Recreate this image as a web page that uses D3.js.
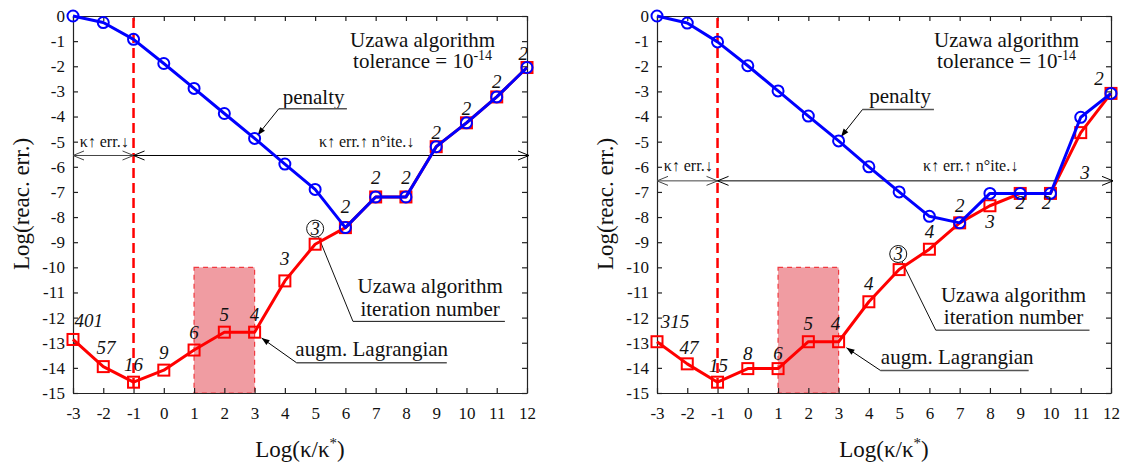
<!DOCTYPE html>
<html><head><meta charset="utf-8">
<script src="https://cdn.jsdelivr.net/npm/d3@7"></script>
<style>body{margin:0;background:#fff}svg{display:block}svg text{font-family:"Liberation Serif","Times New Roman",Tinos,"DejaVu Serif",serif}</style>
</head><body>
<svg id="c" width="1123" height="465"></svg>
<script>
// ---------- data ----------
const kappa = [-3,-2,-1,0,1,2,3,4,5,6,7,8,9,10,11,12];
const xTicks = [-3,-2,-1,0,1,2,3,4,5,6,7,8,9,10,11,12];
const yTicks = [0,-1,-2,-3,-4,-5,-6,-7,-8,-9,-10,-11,-12,-13,-14,-15];

const penaltyLeft = [0,-0.26,-0.93,-1.89,-2.88,-3.88,-4.87,-5.89,-6.9,-8.42,-7.2,-7.2,-5.2,-4.25,-3.22,-2.05];
const augLagLeft  = [-12.87,-13.95,-14.57,-14.09,-13.29,-12.58,-12.58,-10.54,-9.08,-8.42,-7.2,-7.2,-5.2,-4.25,-3.22,-2.05];
const iterLeft    = ["401","57","16","9","6","5","4","3","3","2","2","2","2","2","2","2"];

const penaltyRight = [0,-0.28,-1.03,-1.98,-2.98,-3.98,-4.97,-6.0,-7.0,-7.97,-8.23,-7.06,-7.06,-7.06,-4.03,-3.08];
const augLagRight  = [-12.96,-13.84,-14.57,-14.03,-14.03,-12.96,-12.96,-11.37,-10.09,-9.28,-8.23,-7.55,-7.06,-7.06,-4.64,-3.08];
const iterRight    = ["315","47","15","8","6","5","4","4","3","4","2","3","2","2","3","2"];

const bandX = [1,3];
const bandY = [-10,-15];
const optimalKappa = -1;

// ---------- drawing ----------
const svg = d3.select("#c");
const FONT = '"Liberation Serif","Times New Roman",Tinos,"DejaVu Serif",serif';
const BLUE = "#0000ff", RED = "#ff0000";

function arrowHead(g,x1,y1,x2,y2,len,hw){
  const a=Math.atan2(y2-y1,x2-x1);
  const bx=x2-len*Math.cos(a), by=y2-len*Math.sin(a);
  const px=-Math.sin(a)*hw, py=Math.cos(a)*hw;
  g.append("path").attr("d",`M${x2},${y2}L${bx+px},${by+py}L${bx-px},${by-py}Z`).attr("fill","#000");
}
function chevron(g,tip,yy,dir,color){
  g.append("path").attr("d",`M${tip+dir*11},${yy-4.5}L${tip},${yy}L${tip+dir*11},${yy+4.5}`)
   .attr("fill","none").attr("stroke",color).attr("stroke-width",1);
}

function panel(cfg){
  const x = d3.scaleLinear().domain([-3,12]).range([cfg.x0,cfg.x1]);
  const y = d3.scaleLinear().domain([0,-15]).range([16,393]);
  const g = svg.append("g");

  // shaded band
  g.append("rect").attr("x",x(bandX[0])).attr("y",y(bandY[0]))
   .attr("width",x(bandX[1])-x(bandX[0])).attr("height",y(bandY[1])-y(bandY[0]))
   .attr("fill","#f09ca2").attr("stroke","#f03a40").attr("stroke-width",1.2).attr("stroke-dasharray","5,4");

  // axes (inward ticks on four sides)
  const styleAxis = sel => {
    sel.attr("font-family",null);
    sel.selectAll("path.domain").attr("stroke","#222").attr("stroke-width",1.2);
    sel.selectAll(".tick line").attr("stroke","#222").attr("stroke-width",1.2);
    sel.selectAll("text").style("font-family",FONT).attr("font-size",17).attr("fill","#111");
  };
  g.append("g").attr("transform",`translate(0,${y(-15)})`)
   .call(d3.axisBottom(x).tickValues(xTicks).tickSize(-5).tickSizeOuter(0).tickPadding(14).tickFormat(d=>String(d))).call(styleAxis);
  g.append("g").attr("transform",`translate(0,${y(0)})`)
   .call(d3.axisTop(x).tickValues(xTicks).tickSize(-5).tickSizeOuter(0).tickFormat("")).call(styleAxis);
  g.append("g").attr("transform",`translate(${x(-3)},0)`)
   .call(d3.axisLeft(y).tickValues(yTicks).tickSize(-5).tickSizeOuter(0).tickPadding(8).tickFormat(d=>String(d))).call(styleAxis);
  g.append("g").attr("transform",`translate(${x(12)},0)`)
   .call(d3.axisRight(y).tickValues(yTicks).tickSize(-5).tickSizeOuter(0).tickFormat("")).call(styleAxis);

  // axis titles
  g.append("text").attr("transform",`translate(${cfg.x0-44},204) rotate(-90)`)
   .attr("text-anchor","middle").style("font-family",FONT).attr("font-size",23).attr("fill","#111")
   .text("Log(reac. err.)");
  const xl = g.append("text").attr("x",(cfg.x0+cfg.x1)/2).attr("y",457).attr("text-anchor","middle")
   .style("font-family",FONT).attr("font-size",23).attr("fill","#111");
  xl.append("tspan").text("Log(κ/κ");
  xl.append("tspan").attr("font-size",15).attr("dy",-9).text("*");
  xl.append("tspan").attr("dy",9).text(")");

  // dashed vertical line at optimal kappa
  g.append("line").attr("x1",x(optimalKappa)).attr("x2",x(optimalKappa)).attr("y1",y(0)+2).attr("y2",y(-15))
   .attr("stroke",RED).attr("stroke-width",2.5).attr("stroke-dasharray","10,5");

  // double arrows
  const ay = y(cfg.arrowY);
  g.append("line").attr("x1",x(-3)).attr("x2",x(-1)).attr("y1",ay).attr("y2",ay).attr("stroke","#444").attr("stroke-width",1);
  g.append("line").attr("x1",x(-1)).attr("x2",x(12)+2).attr("y1",ay).attr("y2",ay).attr("stroke","#000").attr("stroke-width",1);
  chevron(g,x(-3),ay,1,"#444");
  chevron(g,x(-1),ay,-1,"#444");
  chevron(g,x(-1),ay,1,"#000");
  chevron(g,x(12)+2,ay,-1,"#000");
  const t = (xx,yy,s,size,anchor) => g.append("text").attr("x",xx).attr("y",yy).attr("text-anchor",anchor||"middle")
      .style("font-family",FONT).attr("font-size",size).attr("fill","#111").text(s);
  t(x(-1.97),y(cfg.arrowTextY),"κ↑ err.↓",16);
  t(x(cfg.longTextX),y(cfg.arrowTextY),"κ↑ err.↑ n°ite.↓",16);

  // top-right annotation
  t(x(8.55),y(-1.22),"Uzawa algorithm",21);
  const tol = g.append("text").attr("x",x(8.55)).attr("y",y(-2.08)).attr("text-anchor","middle")
      .style("font-family",FONT).attr("font-size",21).attr("fill","#111");
  tol.append("tspan").text("tolerance = 10");
  tol.append("tspan").attr("font-size",14).attr("dy",-8).text("-14");

  // penalty annotation
  const p = cfg.pen;
  t(x(p.tx),y(p.ty),"penalty",21);
  g.append("line").attr("x1",x(p.u0)).attr("x2",x(p.u1)).attr("y1",y(p.uy)).attr("y2",y(p.uy)).attr("stroke","#555").attr("stroke-width",1.5);
  g.append("line").attr("x1",x(p.u0)).attr("y1",y(p.uy)).attr("x2",x(p.ax)).attr("y2",y(p.ay)).attr("stroke","#000").attr("stroke-width",1);
  arrowHead(g,x(p.u0),y(p.uy),x(p.ax),y(p.ay),8,3);

  // augmented Lagrangian annotation
  const a = cfg.aug;
  t(x(a.tx),y(a.ty),"augm. Lagrangian",21);
  g.append("line").attr("x1",x(a.u0)).attr("x2",x(a.u1)).attr("y1",y(a.uy)).attr("y2",y(a.uy)).attr("stroke","#555").attr("stroke-width",1.5);
  g.append("line").attr("x1",x(a.u0)).attr("y1",y(a.uy)).attr("x2",x(a.ax)).attr("y2",y(a.ay)).attr("stroke","#000").attr("stroke-width",1);
  arrowHead(g,x(a.u0),y(a.uy),x(a.ax),y(a.ay),8,3);

  // iteration number annotation
  const it = cfg.iter;
  t(x(it.tx),y(it.ty1),"Uzawa algorithm",21);
  t(x(it.tx),y(it.ty2),"iteration number",21);
  g.append("line").attr("x1",x(it.u0)).attr("x2",x(it.u1)).attr("y1",y(it.uy)).attr("y2",y(it.uy)).attr("stroke","#111").attr("stroke-width",1);
  const cx = x(kappa[8]+it.cdx), cy = y(cfg.aug8 + 0.62), r = 8.5;
  const ang = Math.atan2(y(it.uy)-cy, x(it.u0)-cx);
  g.append("line").attr("x1",cx+r*Math.cos(ang)).attr("y1",cy+r*Math.sin(ang)).attr("x2",x(it.u0)).attr("y2",y(it.uy))
   .attr("stroke","#111").attr("stroke-width",1);

  // series: augmented Lagrangian (red squares) beneath penalty (blue circles)
  const line = d3.line().x((d,i)=>x(kappa[i])).y(d=>y(d));
  g.append("path").attr("d",line(cfg.augLag)).attr("fill","none").attr("stroke",RED).attr("stroke-width",3).attr("stroke-linejoin","round");
  g.selectAll(null).data(cfg.augLag).enter().append("rect")
   .attr("x",(d,i)=>x(kappa[i])-5.5).attr("y",d=>y(d)-5.5).attr("width",11).attr("height",11)
   .attr("fill","none").attr("stroke",RED).attr("stroke-width",2);
  g.append("path").attr("d",line(cfg.penalty)).attr("fill","none").attr("stroke",BLUE).attr("stroke-width",3).attr("stroke-linejoin","round");
  g.selectAll(null).data(cfg.penalty).enter().append("circle")
   .attr("cx",(d,i)=>x(kappa[i])).attr("cy",d=>y(d)).attr("r",5.5)
   .attr("fill","none").attr("stroke",BLUE).attr("stroke-width",2);

  // iteration labels
  cfg.iterLabels.forEach((s,i)=>{
    const ex = cfg.labelRules[i] || {};
    if (i===8){
      g.append("circle").attr("cx",cx).attr("cy",cy).attr("r",r).attr("fill","#fff").attr("stroke","#111").attr("stroke-width",1);
      g.append("text").attr("x",cx).attr("y",cy+6).attr("text-anchor","middle").style("font-family",FONT)
       .attr("font-style","italic").attr("font-size",18).attr("fill","#111").text(s);
      return;
    }
    const lx = ex.x!==undefined ? ex.x : kappa[i]+(ex.dx||0);
    const ly = ex.y!==undefined ? ex.y : cfg.augLag[i]+(ex.dy!==undefined?ex.dy:0.45);
    g.append("text").attr("x",x(lx)).attr("y",y(ly)).attr("text-anchor",ex.anchor||"middle")
     .style("font-family",FONT).attr("font-style","italic").attr("font-size",19).attr("fill","#111").text(s);
  });
}

panel({
  x0:73, x1:527,
  penalty:penaltyLeft, augLag:augLagLeft, iterLabels:iterLeft, aug8:augLagLeft[8],
  arrowY:-5.55, arrowTextY:-5.22, longTextX:6.7,
  pen:{tx:4.95,ty:-3.5,u0:3.8,u1:6.05,uy:-3.69,ax:3.1,ay:-4.74},
  aug:{tx:6.87,ty:-13.54,u0:4.39,u1:9.35,uy:-13.8,ax:3.23,ay:-12.81},
  iter:{tx:8.8,ty1:-11.02,ty2:-11.92,u0:6.25,u1:11.27,uy:-12.15,cdx:0},
  labelRules:{0:{anchor:"start",dx:0.05,dy:0.49},1:{dx:0.09,dy:0.49},7:{dy:0.62},9:{dy:0.6},10:{dy:0.5},11:{dy:0.5},12:{dy:0.3},13:{dy:0.32},14:{dy:0.36},15:{dx:-0.12,dy:0.3}}
});
panel({
  x0:657, x1:1111,
  penalty:penaltyRight, augLag:augLagRight, iterLabels:iterRight, aug8:augLagRight[8],
  arrowY:-6.56, arrowTextY:-6.18, longTextX:7.36,
  pen:{tx:5.03,ty:-3.48,u0:3.79,u1:6.15,uy:-3.72,ax:3.08,ay:-4.8},
  aug:{tx:6.92,ty:-13.86,u0:4.38,u1:9.28,uy:-14.1,ax:3.26,ay:-13.2},
  iter:{tx:8.78,ty1:-11.36,ty2:-12.27,u0:6.21,u1:11.29,uy:-12.5,cdx:-0.03},
  labelRules:{0:{anchor:"start",dx:0.12,dy:0.55},1:{dx:0.06,dy:0.4},2:{dx:0.03,dy:0.4},3:{dy:0.36},4:{dy:0.36},6:{dx:-0.1},11:{dy:-0.9},12:{dy:-0.6},13:{dx:-0.13,dy:-0.6},14:{x:11.14,y:-6.5},15:{dx:-0.4,dy:0.35}}
});
</script>
</body></html>
